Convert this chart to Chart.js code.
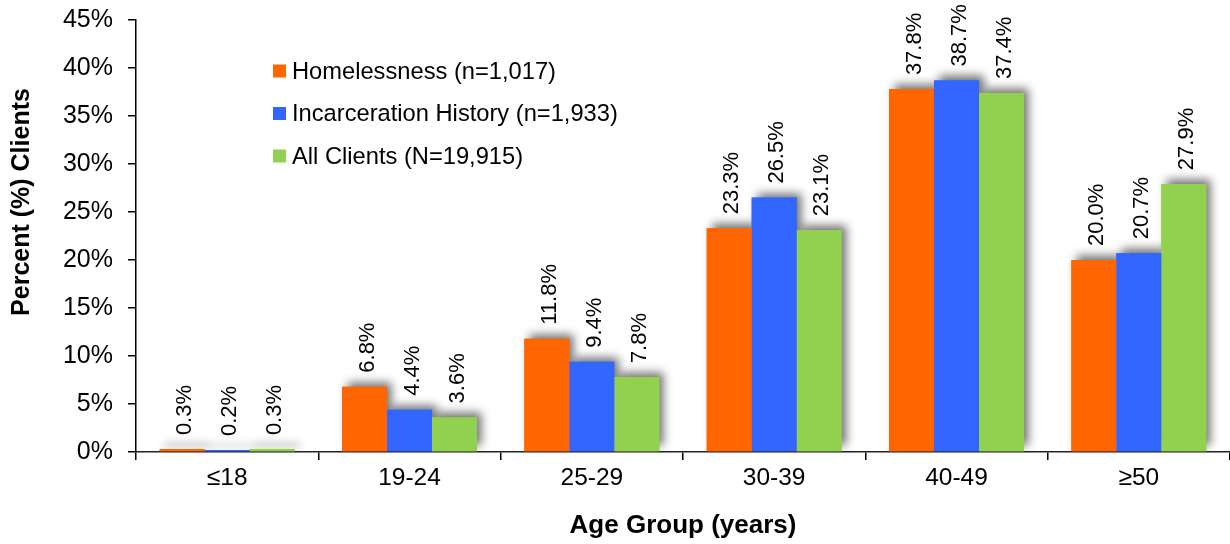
<!DOCTYPE html>
<html>
<head>
<meta charset="utf-8">
<title>Age Group of Clients</title>
<script src="https://cdn.jsdelivr.net/npm/chart.js@4.4.1/dist/chart.umd.min.js"></script>
<style>
  html, body { margin: 0; padding: 0; background: #fff; }
  #wrap { width: 1230px; height: 544px; }
</style>
</head>
<body>
<div id="wrap"><canvas id="chart" width="1230" height="544"></canvas></div>
<script>
// Age groups and the share of clients in each
const categories = ['\u226418', '19-24', '25-29', '30-39', '40-49', '\u226550'];
const homelessness = [0.3, 6.8, 11.8, 23.3, 37.8, 20.0];
const incarceration = [0.2, 4.4, 9.4, 26.5, 38.7, 20.7];
const allClients = [0.3, 3.6, 7.8, 23.1, 37.4, 27.9];
const seriesLabels = ['Homelessness (n=1,017)', 'Incarceration History (n=1,933)', 'All Clients (N=19,915)'];
const seriesColors = ['#FF6600', '#3366FF', '#92D050'];
const yTicks = [0, 5, 10, 15, 20, 25, 30, 35, 40, 45];

const FONT = '"Liberation Sans", Arial, Helvetica, sans-serif';

// Soft drop shadows, painted in one pass beneath all the bars
const barShadow = {
  id: 'barShadow',
  beforeDatasetsDraw(chart) {
    const ctx = chart.ctx;
    chart.data.datasets.forEach((ds, di) => {
      const meta = chart.getDatasetMeta(di);
      meta.data.forEach(bar => {
        const p = bar.getProps(['x', 'y', 'base', 'width'], true);
        ctx.save();
        ctx.shadowColor = 'rgba(0,0,0,0.55)';
        ctx.shadowBlur = 9;
        ctx.shadowOffsetX = 5;
        ctx.shadowOffsetY = -5;
        ctx.fillStyle = ds.backgroundColor;
        ctx.fillRect(p.x - p.width / 2, p.y, p.width, p.base - p.y);
        ctx.restore();
      });
    });
  }
};

// Vertical value labels above each bar
const valueLabels = {
  id: 'valueLabels',
  afterDatasetsDraw(chart) {
    const ctx = chart.ctx;
    ctx.save();
    ctx.fillStyle = '#000';
    ctx.font = '22px ' + FONT;
    ctx.textAlign = 'left';
    ctx.textBaseline = 'middle';
    chart.data.datasets.forEach((ds, di) => {
      const meta = chart.getDatasetMeta(di);
      meta.data.forEach((bar, i) => {
        ctx.save();
        ctx.translate(bar.x + 3, bar.y - 14);
        ctx.rotate(-Math.PI / 2);
        ctx.fillText(ds.data[i].toFixed(1) + '%', 0, 0);
        ctx.restore();
      });
    });
    ctx.restore();
  }
};

// Legend inside the plot and the vertical axis title
const decorations = {
  id: 'decorations',
  afterDraw(chart) {
    const ctx = chart.ctx;
    ctx.save();
    const rows = [71, 113.5, 156];
    ctx.font = '23.7px ' + FONT;
    ctx.textAlign = 'left';
    ctx.textBaseline = 'middle';
    chart.data.datasets.forEach((ds, di) => {
      const y = rows[di];
      ctx.fillStyle = ds.backgroundColor;
      ctx.fillRect(273, y - 6.5, 13, 13);
      ctx.fillStyle = '#000';
      ctx.fillText(ds.label, 292, y + 1);
    });
    ctx.translate(22, 202);
    ctx.rotate(-Math.PI / 2);
    ctx.font = 'bold 25px ' + FONT;
    ctx.textAlign = 'center';
    ctx.fillText('Percent (%) Clients', 0, 0);
    ctx.restore();
  }
};

const datasets = [homelessness, incarceration, allClients].map((vals, i) => ({
  label: seriesLabels[i],
  data: vals,
  backgroundColor: seriesColors[i],
  borderWidth: 0,
  categoryPercentage: 0.74,
  barPercentage: 1.0
}));

new Chart(document.getElementById('chart'), {
  type: 'bar',
  data: { labels: categories, datasets },
  options: {
    responsive: false,
    devicePixelRatio: 1,
    animation: false,
    layout: { padding: { top: 20, left: 0, right: 0, bottom: 0 } },
    plugins: {
      legend: { display: false },
      tooltip: { enabled: false }
    },
    scales: {
      x: {
        afterFit(scale) { scale.height = 92; },
        grid: { offset: true, drawOnChartArea: false, drawTicks: true, tickLength: 8, color: '#000', lineWidth: 1.5 },
        border: { color: '#222', width: 1.5 },
        ticks: { color: '#000', padding: 4, font: { family: FONT, size: 24.5 } },
        title: {
          display: true,
          text: 'Age Group (years)',
          color: '#000',
          font: { family: FONT, size: 26, weight: 'bold' },
          padding: { top: 0, bottom: 3 }
        }
      },
      y: {
        min: 0,
        max: 45,
        afterFit(scale) {
          scale.width = 136;
          scale.paddingTop = 10;
          scale.paddingBottom = 10;
        },
        afterBuildTicks(scale) { scale.ticks = yTicks.map(v => ({ value: v })); },
        grid: { drawOnChartArea: false, drawTicks: true, tickLength: 8, color: '#000', lineWidth: 1.5 },
        border: { color: '#000', width: 1.5 },
        ticks: {
          color: '#000',
          padding: 15,
          font: { family: FONT, size: 25 },
          callback: v => v + '%'
        }
      }
    }
  },
  plugins: [barShadow, valueLabels, decorations]
});
</script>
</body>
</html>
